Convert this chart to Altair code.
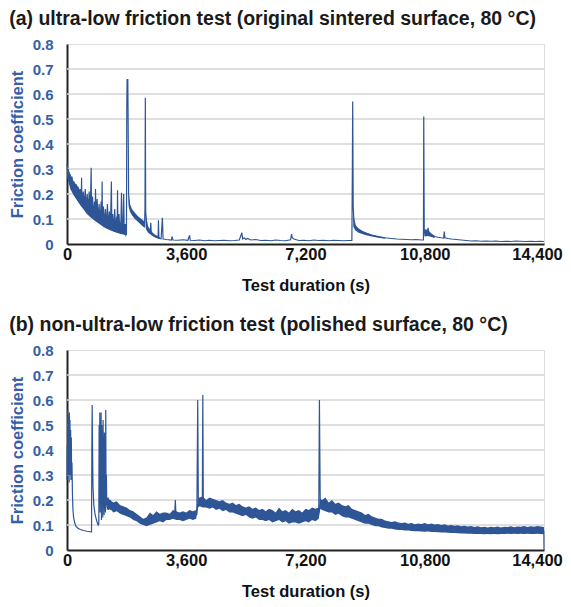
import altair as alt
import pandas as pd

BLUE = "#2E5596"
TXT_BLUE = "#3560A8"
FONT = "Liberation Sans"

X_TICKS = [0, 3600, 7200, 10800, 14400]
Y_TICKS = [0, 0.1, 0.2, 0.3, 0.4, 0.5, 0.6, 0.7, 0.8]
Y_GRID = [0.1, 0.2, 0.3, 0.4, 0.5, 0.6, 0.7]

TITLE_A = "(a) ultra-low friction test (original sintered surface, 80 °C)"
TITLE_B = "(b) non-ultra-low friction test (polished surface, 80 °C)"

# ---------------- Panel (a): line ----------------
a_line_t = [0, 20, 40, 60, 80, 120, 150, 180, 210, 240, 270, 300, 330, 360, 400, 430, 440, 450,
            490, 520, 550, 580, 610, 640, 670, 700, 730, 740, 770, 800, 830, 850, 860, 880, 910,
            940, 970, 1000, 1030, 1050, 1060, 1070, 1100, 1130, 1160, 1190, 1220, 1250, 1280,
            1310, 1340, 1355, 1380, 1410, 1440, 1470, 1500, 1515, 1525, 1540, 1570, 1600, 1630,
            1645, 1660, 1690, 1710, 1730, 1760, 1780, 1795, 1805, 1815, 1825, 1835, 1845, 1860,
            1880, 1920, 1960, 2000, 2050, 2100, 2150, 2200, 2250, 2300, 2340, 2355, 2365, 2375,
            2390, 2400, 2430, 2470, 2510, 2530, 2545, 2600, 2650, 2700, 2750, 2760, 2775, 2840,
            2880, 2900, 2950, 3000, 3150, 3170, 3200, 3350, 3500, 3650, 3700, 3720, 3850, 4000,
            4150, 4300, 4450, 4600, 4750, 4900, 5050, 5200, 5280, 5300, 5350, 5400, 5450, 5550,
            5700, 5850, 6000, 6150, 6300, 6450, 6600, 6750, 6780, 6800, 6850, 7000, 7150, 7300,
            7450, 7600, 7750, 7900, 8050, 8200, 8350, 8500, 8600, 8615, 8625, 8640, 8660, 8700,
            8750, 8800, 8900, 9000, 9100, 9200, 9350, 9500, 9650, 9800, 9950, 10100, 10250,
            10400, 10550, 10700, 10760, 10770, 10785, 10820, 10870, 10900, 10930, 11000, 11100,
            11200, 11300, 11370, 11390, 11410, 11500, 11600, 11750, 11900, 12050, 12200, 12350,
            12500, 12650, 12800, 12950, 13100, 13250, 13400, 13550, 13700, 13850, 14000, 14150,
            14300, 14400]
a_line_y = [0.32, 0.29, 0.30, 0.27, 0.28, 0.25, 0.27, 0.22, 0.25, 0.20, 0.24, 0.19, 0.23, 0.18,
            0.22, 0.17, 0.265, 0.16, 0.21, 0.15, 0.22, 0.14, 0.20, 0.13, 0.21, 0.12, 0.305, 0.12,
            0.19, 0.11, 0.17, 0.10, 0.22, 0.10, 0.18, 0.09, 0.16, 0.085, 0.17, 0.08, 0.25, 0.08,
            0.15, 0.07, 0.14, 0.065, 0.16, 0.06, 0.13, 0.057, 0.25, 0.055, 0.12, 0.05, 0.14,
            0.048, 0.11, 0.046, 0.215, 0.045, 0.12, 0.042, 0.10, 0.205, 0.04, 0.09, 0.20, 0.038,
            0.08, 0.036, 0.04, 0.55, 0.66, 0.60, 0.66, 0.50, 0.20, 0.16, 0.14, 0.125, 0.12, 0.11,
            0.105, 0.095, 0.09, 0.085, 0.075, 0.07, 0.15, 0.585, 0.13, 0.10, 0.065, 0.06, 0.05,
            0.045, 0.085, 0.04, 0.035, 0.03, 0.026, 0.024, 0.095, 0.023, 0.021, 0.105, 0.02,
            0.019, 0.018, 0.016, 0.03, 0.016, 0.015, 0.017, 0.015, 0.035, 0.015, 0.014, 0.016,
            0.013, 0.015, 0.013, 0.014, 0.015, 0.013, 0.014, 0.016, 0.045, 0.02, 0.025, 0.018,
            0.022, 0.016, 0.018, 0.014, 0.015, 0.013, 0.016, 0.014, 0.013, 0.017, 0.04, 0.025,
            0.02, 0.014, 0.015, 0.013, 0.016, 0.014, 0.015, 0.013, 0.015, 0.014, 0.013, 0.014,
            0.014, 0.30, 0.57, 0.15, 0.10, 0.075, 0.065, 0.06, 0.05, 0.045, 0.04, 0.035, 0.03,
            0.026, 0.024, 0.022, 0.02, 0.019, 0.018, 0.017, 0.018, 0.016, 0.016, 0.51, 0.05,
            0.035, 0.04, 0.065, 0.04, 0.035, 0.03, 0.027, 0.025, 0.024, 0.05, 0.025, 0.022, 0.02,
            0.018, 0.016, 0.014, 0.012, 0.013, 0.011, 0.012, 0.011, 0.012, 0.01, 0.011, 0.01,
            0.012, 0.011, 0.01, 0.011, 0.01, 0.011, 0.01]

# Panel (a): dense noise band (segment, time, lower, upper)
a_band_seg = [1] * 19 + [2] * 7 + [3] * 5 + [4] * 7 + [5] * 4
a_band_t = [0, 100, 200, 300, 400, 500, 600, 700, 800, 900, 1000, 1100, 1200, 1300, 1400, 1500,
            1600, 1700, 1780,
            1860, 1900, 1960, 2050, 2150, 2250, 2340,
            2380, 2450, 2550, 2650, 2800,
            8640, 8700, 8800, 9000, 9200, 9400, 9600,
            10790, 10900, 11000, 11100]
a_band_lo = [0.27, 0.22, 0.195, 0.175, 0.155, 0.138, 0.12, 0.108, 0.097, 0.087, 0.078, 0.068,
             0.061, 0.055, 0.05, 0.045, 0.041, 0.038, 0.035,
             0.15, 0.13, 0.115, 0.10, 0.088, 0.075, 0.065,
             0.06, 0.045, 0.035, 0.027, 0.02,
             0.07, 0.055, 0.045, 0.036, 0.03, 0.025, 0.021,
             0.03, 0.032, 0.028, 0.024]
a_band_hi = [0.31, 0.28, 0.25, 0.235, 0.215, 0.195, 0.18, 0.165, 0.15, 0.14, 0.13, 0.12, 0.11,
             0.10, 0.095, 0.09, 0.085, 0.08, 0.075,
             0.20, 0.16, 0.14, 0.125, 0.11, 0.10, 0.09,
             0.12, 0.07, 0.05, 0.038, 0.028,
             0.12, 0.075, 0.06, 0.047, 0.038, 0.032, 0.027,
             0.06, 0.055, 0.042, 0.033]

# ---------------- Panel (b) ----------------
b_line_seg = [1] * 73 + [2] * 3 + [3] * 3 + [4] * 3 + [5] * 3 + [6] * 2
b_line_t = [0, 8, 16, 24, 32, 40, 48, 56, 64, 72, 80, 90, 100, 110, 120, 130, 140, 150, 165,
            180, 200, 230, 270, 320, 400, 500, 600, 700, 740, 750, 760, 770, 785, 810, 850, 900,
            940, 960, 970, 980, 990, 1000, 1010, 1020, 1030, 1040, 1050, 1060, 1070, 1080, 1090,
            1100, 1110, 1120, 1130, 1140, 1150, 1160, 1170, 1180, 1190, 1200, 1215, 1230, 1245,
            1260, 1275, 1290, 1305, 1320, 1335, 1350, 1365,
            3250, 3270, 3290,
            3920, 3946, 3965,
            4085, 4100, 4115,
            7600, 7620, 7645,
            14395, 14400]
b_line_y = [0.28, 0.42, 0.30, 0.56, 0.33, 0.54, 0.30, 0.50, 0.27, 0.55, 0.35, 0.52, 0.30, 0.48,
            0.28, 0.45, 0.30, 0.35, 0.22, 0.16, 0.13, 0.11, 0.095, 0.088, 0.082, 0.078, 0.075,
            0.073, 0.072, 0.41, 0.58, 0.42, 0.25, 0.18, 0.14, 0.115, 0.10, 0.105, 0.50, 0.20,
            0.55, 0.15, 0.52, 0.18, 0.55, 0.12, 0.50, 0.20, 0.48, 0.13, 0.52, 0.17, 0.45, 0.14,
            0.47, 0.16, 0.38, 0.15, 0.56, 0.17, 0.30, 0.18, 0.20, 0.17, 0.21, 0.16, 0.19, 0.17,
            0.20, 0.16, 0.19, 0.17, 0.18,
            0.14, 0.20, 0.14,
            0.14, 0.60, 0.19,
            0.19, 0.62, 0.19,
            0.15, 0.60, 0.18,
            0.078, 0.0]

# noise band of panel (b), sampled every 100 s (plus the two jump points)
b_band_t = ([1200 + 100 * k for k in range(13)] + [2500 + 100 * k for k in range(15)] + [3960]
            + [4000 + 100 * k for k in range(36)] + [7600, 7650]
            + [7700 + 100 * k for k in range(20)] + [9700 + 100 * k for k in range(48)])
b_band_lo = [0.16, 0.165, 0.15, 0.155, 0.145, 0.14, 0.135, 0.13, 0.12, 0.115, 0.105, 0.10, 0.095,
             0.10, 0.105, 0.11, 0.115, 0.11, 0.12, 0.12, 0.125, 0.12, 0.12, 0.115, 0.12, 0.125,
             0.12, 0.125,
             0.17,
             0.175, 0.17, 0.17, 0.165, 0.17, 0.16, 0.165, 0.155, 0.16, 0.15, 0.15, 0.145, 0.14,
             0.135, 0.14, 0.13, 0.125, 0.13, 0.12, 0.12, 0.115, 0.12, 0.11, 0.115, 0.12, 0.11,
             0.115, 0.105, 0.11, 0.11, 0.105, 0.11, 0.115, 0.11, 0.12, 0.115,
             0.125, 0.165,
             0.16, 0.155, 0.15, 0.15, 0.14, 0.145, 0.135, 0.13, 0.13, 0.125, 0.12, 0.115, 0.11,
             0.105, 0.105, 0.10, 0.095, 0.095, 0.09, 0.088,
             0.085, 0.085, 0.082, 0.08, 0.08, 0.078, 0.078, 0.076, 0.075, 0.075, 0.074, 0.073,
             0.074, 0.072, 0.072, 0.071, 0.07, 0.07, 0.069, 0.068, 0.068, 0.067, 0.066, 0.066,
             0.065, 0.065, 0.064, 0.064, 0.064, 0.063, 0.064, 0.063, 0.064, 0.063, 0.064, 0.064,
             0.065, 0.064, 0.065, 0.064, 0.065, 0.064, 0.065, 0.064, 0.064, 0.065, 0.064, 0.063]
b_band_hi = [0.21, 0.20, 0.19, 0.195, 0.18, 0.175, 0.17, 0.16, 0.155, 0.145, 0.135, 0.125, 0.13,
             0.15, 0.14, 0.155, 0.145, 0.15, 0.15, 0.145, 0.16, 0.155, 0.15, 0.155, 0.15, 0.16,
             0.155, 0.16,
             0.21,
             0.21, 0.215, 0.20, 0.21, 0.205, 0.20, 0.195, 0.20, 0.19, 0.185, 0.19, 0.18, 0.185,
             0.175, 0.17, 0.175, 0.165, 0.17, 0.16, 0.165, 0.155, 0.165, 0.16, 0.15, 0.17, 0.155,
             0.16, 0.15, 0.165, 0.155, 0.16, 0.15, 0.165, 0.16, 0.17, 0.165,
             0.17, 0.205,
             0.20, 0.21, 0.19, 0.20, 0.185, 0.19, 0.18, 0.175, 0.18, 0.165, 0.16, 0.155, 0.15,
             0.14, 0.145, 0.135, 0.13, 0.125, 0.125, 0.118,
             0.115, 0.112, 0.115, 0.11, 0.108, 0.11, 0.105, 0.108, 0.103, 0.106, 0.104, 0.108,
             0.103, 0.106, 0.102, 0.104, 0.10, 0.103, 0.098, 0.10, 0.097, 0.099, 0.095, 0.097,
             0.094, 0.096, 0.092, 0.095, 0.091, 0.093, 0.09, 0.093, 0.091, 0.094, 0.09, 0.093,
             0.092, 0.095, 0.091, 0.094, 0.093, 0.096, 0.092, 0.095, 0.093, 0.096, 0.094, 0.092]
b_band_seg = [1] * len(b_band_t)


def panel(title, line_df, band_df):
    xscale = alt.Scale(domain=[0, 14400], nice=False)
    yscale = alt.Scale(domain=[0, 0.8], nice=False)
    xaxis = alt.Axis(values=X_TICKS, labelExpr="format(datum.value, ',')",
                     title="Test duration (s)", grid=False,
                     ticks=False, labelPadding=2, titlePadding=15, labelFont=FONT,
                     labelFontSize=16.5, labelFontWeight="bold", labelColor="#111111",
                     labelOffset={"condition": {"test": "datum.value == 14400", "value": -7},
                                  "value": 0},
                     titleFont=FONT, titleFontSize=16.5, titleFontWeight="bold",
                     titleColor="#111111", domainColor="#222222", domainWidth=2,
                     labelFlush=False)
    yaxis = alt.Axis(values=Y_TICKS, title="Friction coefficient", grid=False, ticks=False,
                     labelExpr="datum.value == 0 ? '0' : format(datum.value, '.1f')",
                     labelPadding=14, titlePadding=7, labelFont=FONT, labelFontSize=15,
                     labelFontWeight="bold", labelColor=TXT_BLUE, titleFont=FONT,
                     titleFontSize=16.5, titleFontWeight="bold", titleColor=TXT_BLUE,
                     domainColor="#222222", domainWidth=2)
    x = alt.X("t:Q", scale=xscale, axis=xaxis)
    grid = alt.Chart(pd.DataFrame({"g": Y_GRID})).mark_rule(
        color="#D4D4D4", strokeWidth=1.6).encode(
        y=alt.Y("g:Q", scale=yscale, axis=yaxis))
    band = alt.Chart(band_df).mark_area(color=BLUE, opacity=1, interpolate="linear").encode(
        x=x, y=alt.Y("lo:Q", scale=yscale, axis=yaxis), y2="hi:Q", detail="seg:N")
    line = alt.Chart(line_df).mark_line(color=BLUE, strokeWidth=1.2).encode(
        x=x, y=alt.Y("y:Q", scale=yscale, axis=yaxis), detail="seg:N", order="i:Q")
    return alt.layer(grid, band, line).properties(
        width=477, height=200,
        title=alt.TitleParams(title, anchor="start", frame="bounds", font=FONT, fontSize=19.5,
                              fontWeight="bold", color="#1a1a1a", offset=8))


a_line = pd.DataFrame({"t": a_line_t, "y": a_line_y, "seg": 1, "i": range(len(a_line_t))})
a_band = pd.DataFrame({"t": a_band_t, "lo": a_band_lo, "hi": a_band_hi, "seg": a_band_seg})
b_line = pd.DataFrame({"t": b_line_t, "y": b_line_y, "seg": b_line_seg,
                       "i": range(len(b_line_t))})
b_band = pd.DataFrame({"t": b_band_t, "lo": b_band_lo, "hi": b_band_hi, "seg": b_band_seg})

chart = alt.vconcat(panel(TITLE_A, a_line, a_band), panel(TITLE_B, b_line, b_band),
                    spacing=19).properties(padding=0).configure_view(
    stroke="#404040", strokeWidth=1.5).configure(background="white")

chart.save("out.html", embed_options={"renderer": "svg", "actions": False})
